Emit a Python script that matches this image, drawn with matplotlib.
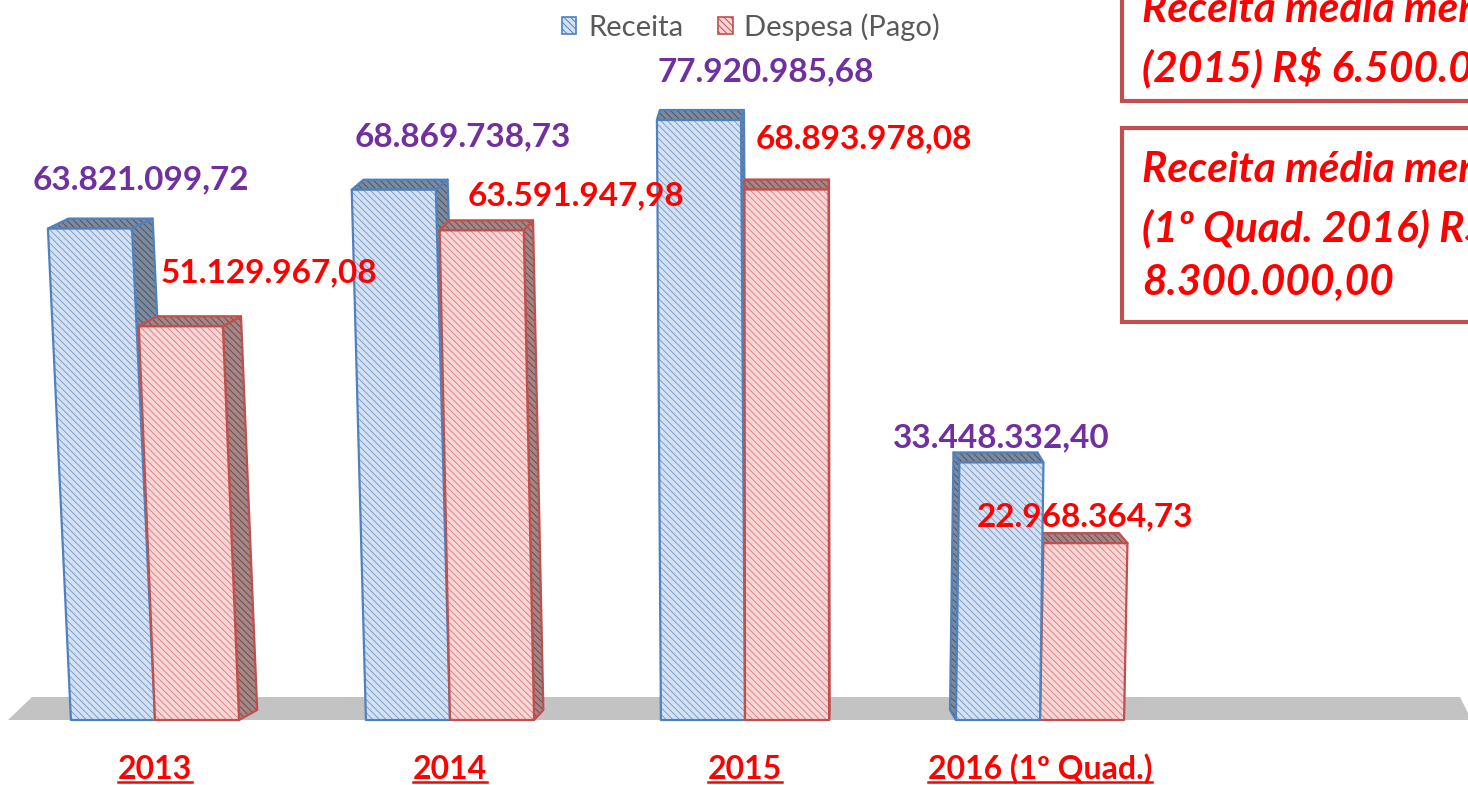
import matplotlib
matplotlib.use("Agg")
import matplotlib.pyplot as plt
from matplotlib.patches import Polygon, Patch, Rectangle
from matplotlib.lines import Line2D

# data (R$ milhões)
categorias = ["2013", "2014", "2015", "2016 (1º Quad.)"]
receita = [63.82109972, 68.86973873, 77.92098568, 33.44833240]
despesa = [51.12996708, 63.59194798, 68.89397808, 22.96836473]
receita_txt = ["63.821.099,72", "68.869.738,73", "77.920.985,68", "33.448.332,40"]
despesa_txt = ["51.129.967,08", "63.591.947,98", "68.893.978,08", "22.968.364,73"]

# label offsets (pixels, relative to top of the bar front)
rec_off = [(51, 49), (69, 53), (67, 48), (0, 25)]
desp_off = [(88, 53), (94, 35), (77, 51), (0, 26)]

W, H = 1468, 785
PX_PER_CAT = 295.0
PX_PER_M = 7.7
BASE_X, BASE_Y = 155, 720

BAR_W = 0.285
VX = 2.19          # vanishing x (category units)
K_DEPTH = 0.03     # horizontal depth factor
C_SKEW = 0.000524  # perspective lean of the front faces
DY = 10 / PX_PER_M
FLOOR_D = 23 / PX_PER_M

plt.rcParams["font.family"] = ["Lato", "DejaVu Sans"]
plt.rcParams["hatch.linewidth"] = 0.7

fig = plt.figure(figsize=(W / 100, H / 100), dpi=100)
ax = fig.add_axes([0, 0, 1, 1])
ax.set_xlim(-BASE_X / PX_PER_CAT, (W - BASE_X) / PX_PER_CAT)
ax.set_ylim(-(H - BASE_Y) / PX_PER_M, BASE_Y / PX_PER_M)
ax.axis("off")

# floor
x_lo, x_hi = ax.get_xlim()
ax.add_patch(Polygon([(x_lo + 8 / PX_PER_CAT, 0), (x_hi, 0),
                      (x_hi, FLOOR_D * 0.3), (x_hi - 8 / PX_PER_CAT, FLOOR_D),
                      (x_lo + 32 / PX_PER_CAT, FLOOR_D)],
                     closed=True, facecolor="#c3c3c3", edgecolor="none", zorder=0))

STYLES = {
    "rec": dict(face="#d6e2f2", hatch="#7aa0d6", edge="#4f81bd",
                dark="#7d8a9c", dark_h="#4a5566"),
    "desp": dict(face="#f6d6d6", hatch="#de8684", edge="#c0504d",
                 dark="#a58585", dark_h="#6e4d4d"),
}
HATCH = "\\" * 5


def face(pts, fc, hc, ec, z):
    ax.add_patch(Polygon(pts, closed=True, facecolor=fc, edgecolor=hc,
                         hatch=HATCH, lw=0, zorder=z))
    ax.add_patch(Polygon(pts, closed=True, fill=False, edgecolor=ec,
                         lw=1.6, joinstyle="round", zorder=z + 0.01))


def bar3d(xc, h, st, z):
    x0, x1 = xc - BAR_W / 2, xc + BAR_W / 2
    sk = C_SKEW * (xc - VX) * h
    dx = K_DEPTH * (VX - xc)
    s = STYLES[st]
    xs = x1 if dx > 0 else x0
    face([(xs, 0), (xs + sk, h), (xs + sk + dx, h + DY), (xs + dx, DY)],
         s["dark"], s["dark_h"], s["edge"], z)
    face([(x0 + sk, h), (x1 + sk, h), (x1 + sk + dx, h + DY), (x0 + sk + dx, h + DY)],
         s["dark"], s["dark_h"], s["edge"], z + 0.02)
    face([(x0, 0), (x1, 0), (x1 + sk, h), (x0 + sk, h)],
         s["face"], s["hatch"], s["edge"], z + 0.04)
    return xc + sk


for i in range(len(categorias)):
    xr, xd = i - BAR_W / 2, i + BAR_W / 2
    zr = 10 - abs(xr - VX)
    zd = 10 - abs(xd - VX)
    tr = bar3d(xr, receita[i], "rec", zr)
    td = bar3d(xd, despesa[i], "desp", zd)
    ax.annotate(receita_txt[i], (tr, receita[i]), xytext=rec_off[i],
                textcoords="offset pixels", ha="center", va="center",
                fontsize=24, fontweight="bold", color="#7030a0", zorder=30)
    ax.annotate(despesa_txt[i], (td, despesa[i]), xytext=desp_off[i],
                textcoords="offset pixels", ha="center", va="center",
                fontsize=24, fontweight="bold", color="#ff0000", zorder=30)

cat_texts = []
for i, c in enumerate(categorias):
    t = ax.annotate(c, (i, 0), xytext=(0, -59), textcoords="offset pixels",
                    ha="center", va="baseline", fontsize=23, fontweight="bold",
                    color="#ff0000")
    cat_texts.append(t)

# legend
handles = [Patch(facecolor="#d6e2f2", edgecolor="#4f81bd", hatch=HATCH, lw=1.2),
           Patch(facecolor="#f6d6d6", edgecolor="#c0504d", hatch=HATCH, lw=1.2)]
fig.legend(handles, ["Receita", "Despesa (Pago)"], loc="center",
           bbox_to_anchor=(751 / W, 1 - 27 / H), ncol=2, frameon=False,
           fontsize=21, labelcolor="#595959", handlelength=0.5,
           handleheight=0.5, handletextpad=0.4, columnspacing=1.2)


def fx(px):
    return px / W


def fy(py):
    return 1 - py / H


# annotation boxes on the right (cut off by the image edge)
box_color = "#c0504d"
fig.add_artist(Rectangle((fx(1122), fy(101)), fx(600), fy(-60) - fy(101),
                         transform=fig.transFigure, facecolor="white",
                         edgecolor=box_color, lw=3, zorder=5))
fig.add_artist(Rectangle((fx(1122), fy(322)), fx(600), fy(128) - fy(322),
                         transform=fig.transFigure, facecolor="white",
                         edgecolor=box_color, lw=3, zorder=5))
box_kw = dict(transform=fig.transFigure, fontsize=30.5, fontweight="bold",
              fontstyle="italic", color="#ff0000", ha="left", va="center",
              zorder=6)
fig.text(fx(1142), fy(10), "Receita média mensal", **box_kw)
fig.text(fx(1142), fy(68), "(2015) R$ 6.500.000,00", **box_kw)
fig.text(fx(1142), fy(170), "Receita média mensal", **box_kw)
fig.text(fx(1142), fy(228), "(1º Quad. 2016) R$", **box_kw)
fig.text(fx(1142), fy(283), "8.300.000,00", **box_kw)

# underline the category labels (just under the baseline)
fig.canvas.draw()
r = fig.canvas.get_renderer()
for t in cat_texts:
    bb = t.get_window_extent(r)
    base_px = ax.transData.transform((0, 0))[1] - 59
    y = base_px - 3
    fig.add_artist(Line2D([bb.x0 / W, bb.x1 / W], [y / H, y / H],
                          transform=fig.transFigure, color="#ff0000", lw=1.8))

fig.savefig("out.png", dpi=100, facecolor="white")
plt.close(fig)
